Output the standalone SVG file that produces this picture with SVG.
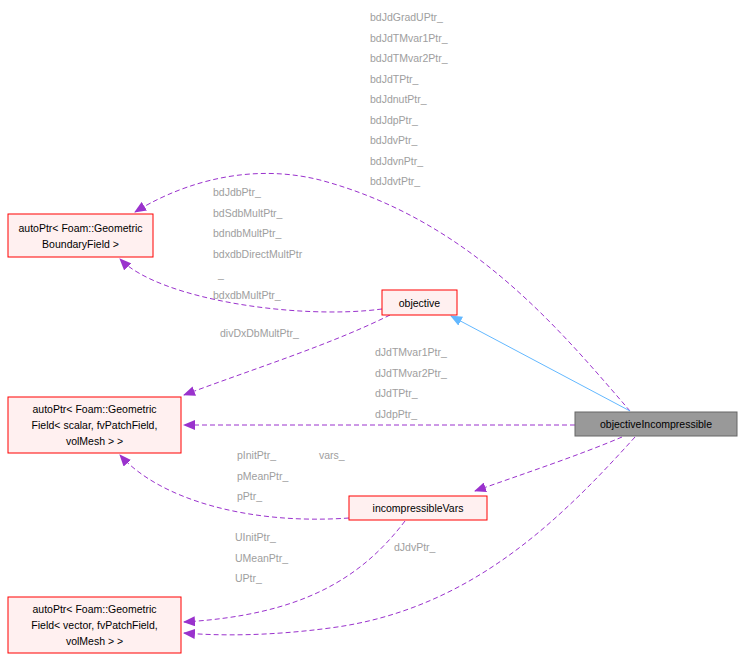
<svg xmlns="http://www.w3.org/2000/svg" width="742" height="657" viewBox="0 0 742 657">
<style>
.n{fill:#fff0f0;stroke:#ff0000;stroke-width:1}
.t{font-family:"Liberation Sans",Arial,sans-serif;font-size:10.5px;fill:#000}
.l{font-family:"Liberation Sans",Arial,sans-serif;font-size:10.5px;fill:#9e9e9e}
.e{fill:none;stroke:#9a32cd;stroke-dasharray:5,3}
</style>
<defs>
<marker id="a" markerWidth="12" markerHeight="10" refX="11" refY="5" orient="auto" markerUnits="userSpaceOnUse"><path d="M0,0 L12,5 L0,10 z" fill="#9a32cd"/></marker>
<marker id="b" markerWidth="12" markerHeight="10" refX="11" refY="5" orient="auto" markerUnits="userSpaceOnUse"><path d="M0,0 L12,5 L0,10 z" fill="#63b8ff"/></marker>
</defs>
<rect width="742" height="657" fill="#fff"/>
<g id="edges">
<path class="e" marker-end="url(#a)" d="M630,411 C560,330 470,220 320,180 C240,160 170,190 135,212"/>
<path class="e" marker-end="url(#a)" d="M382,309 C300,320 160,300 120,259"/>
<path class="e" marker-end="url(#a)" d="M390,315 C330,345 250,370 184,395"/>
<path class="e" marker-end="url(#a)" d="M575,425 L184,425"/>
<path fill="none" stroke="#63b8ff" marker-end="url(#b)" d="M630,411 L451,316"/>
<path class="e" marker-end="url(#a)" d="M622,437 C580,455 520,475 475,491"/>
<path class="e" marker-end="url(#a)" d="M349,518 C250,525 160,500 120,455"/>
<path class="e" marker-end="url(#a)" d="M405,521 C360,580 300,615 184,622"/>
<path class="e" marker-end="url(#a)" d="M635,437 C560,520 470,610 330,628 C270,636 220,636 184,633"/>
<text class="l" x="370" y="21">bdJdGradUPtr_</text>
<text class="l" x="370" y="41.5">bdJdTMvar1Ptr_</text>
<text class="l" x="370" y="62">bdJdTMvar2Ptr_</text>
<text class="l" x="370" y="82.5">bdJdTPtr_</text>
<text class="l" x="370" y="103">bdJdnutPtr_</text>
<text class="l" x="370" y="123.5">bdJdpPtr_</text>
<text class="l" x="370" y="144">bdJdvPtr_</text>
<text class="l" x="370" y="164.5">bdJdvnPtr_</text>
<text class="l" x="370" y="185">bdJdvtPtr_</text>
<text class="l" x="213" y="196">bdJdbPtr_</text>
<text class="l" x="213" y="216.5">bdSdbMultPtr_</text>
<text class="l" x="213" y="237">bdndbMultPtr_</text>
<text class="l" x="213" y="257.5">bdxdbDirectMultPtr</text>
<text class="l" x="218" y="278">_</text>
<text class="l" x="213" y="298.5">bdxdbMultPtr_</text>
<text class="l" x="220" y="337">divDxDbMultPtr_</text>
<text class="l" x="375" y="356">dJdTMvar1Ptr_</text>
<text class="l" x="375" y="376.5">dJdTMvar2Ptr_</text>
<text class="l" x="375" y="397">dJdTPtr_</text>
<text class="l" x="375" y="417.5">dJdpPtr_</text>
<text class="l" x="319" y="459">vars_</text>
<text class="l" x="237" y="459">pInitPtr_</text>
<text class="l" x="237" y="479.5">pMeanPtr_</text>
<text class="l" x="237" y="500">pPtr_</text>
<text class="l" x="235" y="541">UInitPtr_</text>
<text class="l" x="235" y="561.5">UMeanPtr_</text>
<text class="l" x="235" y="582">UPtr_</text>
<text class="l" x="394" y="551">dJdvPtr_</text>
</g>
<g id="bf"><rect class="n" x="8" y="214" width="145" height="43"/><text class="t" x="80.5" y="232" text-anchor="middle">autoPtr&lt; Foam::Geometric</text><text class="t" x="80.5" y="248" text-anchor="middle">BoundaryField &gt;</text></g>
<g id="objective"><rect class="n" x="382" y="290" width="75" height="25"/><text class="t" x="419.5" y="306.5" text-anchor="middle">objective</text></g>
<g id="scalar"><rect class="n" x="8" y="397" width="173" height="56"/><text class="t" x="94.5" y="413" text-anchor="middle">autoPtr&lt; Foam::Geometric</text><text class="t" x="94.5" y="429" text-anchor="middle">Field&lt; scalar, fvPatchField,</text><text class="t" x="94.5" y="445" text-anchor="middle">volMesh &gt; &gt;</text></g>
<g id="oi"><rect x="575" y="412" width="162" height="24" fill="#999" stroke="#666"/><text class="t" x="656" y="428" text-anchor="middle">objectiveIncompressible</text></g>
<g id="iv"><rect class="n" x="349" y="496" width="138" height="24"/><text class="t" x="418" y="512" text-anchor="middle">incompressibleVars</text></g>
<g id="vector"><rect class="n" x="8" y="597" width="173" height="56"/><text class="t" x="94.5" y="613" text-anchor="middle">autoPtr&lt; Foam::Geometric</text><text class="t" x="94.5" y="629" text-anchor="middle">Field&lt; vector, fvPatchField,</text><text class="t" x="94.5" y="645" text-anchor="middle">volMesh &gt; &gt;</text></g>
</svg>
